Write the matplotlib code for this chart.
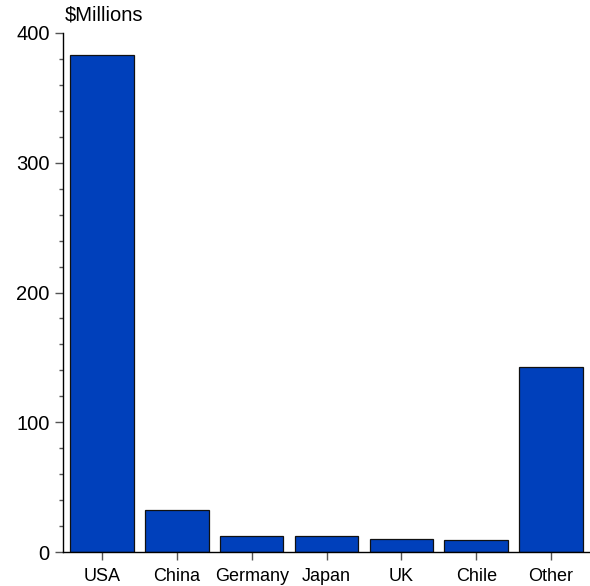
import matplotlib.pyplot as plt
from matplotlib.ticker import MultipleLocator

plt.rcParams['font.family'] = ['Liberation Sans', 'DejaVu Sans']

countries = ["USA", "China", "Germany", "Japan", "UK", "Chile", "Other"]
values = [383, 32.5, 12.3, 12.3, 10, 9.2, 142.6]

fig = plt.figure(figsize=(5.9, 5.86), dpi=100)
ax = fig.add_axes([63 / 590, 1 - 552 / 586, 1 - 63 / 590, (552 - 33) / 586])

x = range(len(countries))
ax.bar(x, values, width=0.85, color="#0040BB", edgecolor="#111111", linewidth=0.9)

ax.set_xlim(-0.52, 6.52)
ax.set_ylim(0, 400)
ax.set_xticks(list(x))
ax.set_xticklabels(countries)
ax.yaxis.set_major_locator(MultipleLocator(100))
ax.yaxis.set_minor_locator(MultipleLocator(20))

for s in ["top", "right"]:
    ax.spines[s].set_visible(False)
for s in ["left", "bottom"]:
    ax.spines[s].set_linewidth(1.0)
    ax.spines[s].set_color("black")

ax.tick_params(axis="both", which="major", direction="out", length=5.5, width=1,
               color="#555555")
ax.tick_params(axis="y", which="major", labelsize=14.5, pad=4)
ax.tick_params(axis="y", which="minor", direction="out", length=3, width=1, color="#555555")
ax.tick_params(axis="x", which="major", labelsize=13, pad=6)

fig.text(65 / 590, 1 - 15 / 586, "$Millions", ha="left", va="center", fontsize=14.5)

fig.savefig("out.png", dpi=100)
